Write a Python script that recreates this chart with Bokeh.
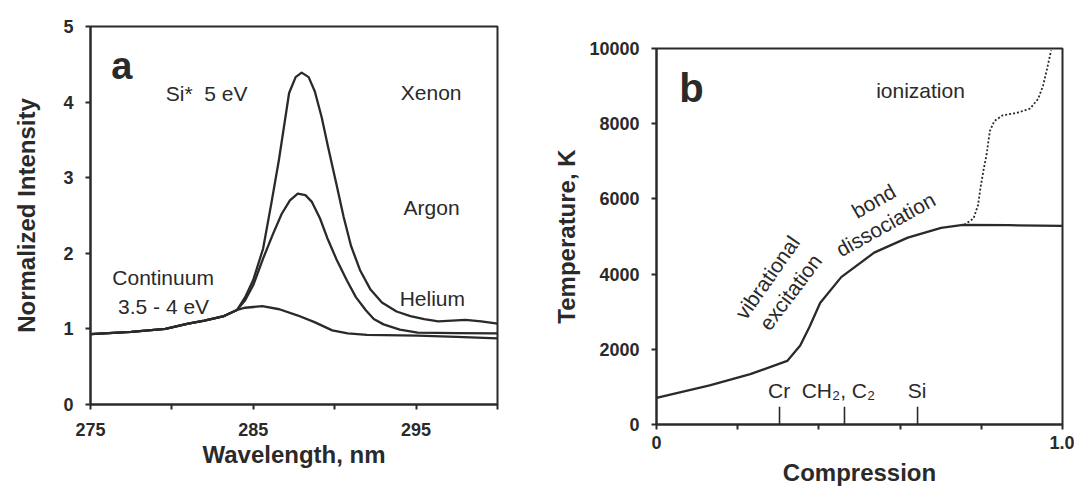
from bokeh.plotting import figure
from bokeh.layouts import row, column
from bokeh.models import FixedTicker, CustomJSTickFormatter, Range1d
from bokeh.core.properties import value
from bokeh.embed import file_html
from bokeh.resources import INLINE

INK = "#2a2a2a"
FONT = "Liberation Sans"

# ---------------- Panel a data ----------------
xenon_wl = [275.0, 277.5, 279.6, 281.0, 282.0, 283.2, 284.0, 284.5, 285.0, 285.6, 286.1, 286.57,
            287.2, 287.6, 287.97, 288.4, 288.78, 289.2, 289.6, 290.1, 290.55, 291.0, 291.55,
            292.2, 292.9, 293.8, 294.65, 295.5, 296.36, 297.2, 298.04, 299.0, 300.0]
xenon_int = [0.93, 0.96, 1.00, 1.07, 1.11, 1.17, 1.25, 1.42, 1.65, 2.06, 2.65, 3.23,
             4.12, 4.33, 4.39, 4.33, 4.14, 3.80, 3.40, 2.92, 2.48, 2.10, 1.78,
             1.52, 1.35, 1.23, 1.17, 1.13, 1.10, 1.11, 1.12, 1.10, 1.07]

argon_wl = [275.0, 277.5, 279.6, 281.0, 282.0, 283.2, 284.0, 284.5, 285.0, 285.6, 286.2, 286.74,
            287.25, 287.73, 288.2, 288.6, 289.1, 289.55, 290.15, 290.75, 291.3, 291.9,
            292.4, 293.0, 294.0, 295.1, 297.5, 300.0]
argon_int = [0.93, 0.96, 1.00, 1.07, 1.11, 1.17, 1.25, 1.38, 1.58, 1.93, 2.25, 2.52,
             2.70, 2.79, 2.77, 2.68, 2.46, 2.20, 1.90, 1.64, 1.42, 1.25,
             1.13, 1.06, 0.99, 0.95, 0.945, 0.94]

helium_wl = [275.0, 277.5, 279.6, 281.0, 282.0, 283.2, 284.0, 284.5, 285.55, 286.6, 287.7,
             288.76, 289.85, 290.8, 291.98, 295.1, 297.5, 300.0]
helium_int = [0.93, 0.96, 1.00, 1.07, 1.11, 1.17, 1.25, 1.28, 1.30, 1.26, 1.18,
              1.09, 0.98, 0.94, 0.92, 0.91, 0.895, 0.875]

a_xticks = [275, 280, 285, 290, 295, 300]
a_xlabels = ["275", "", "285", "", "295", ""]
a_yticks = [0, 1, 2, 3, 4, 5]
a_ylabels = ["0", "1", "2", "3", "4", "5"]

a_text = ["Si*\u00a0 5 eV", "Xenon", "Argon", "Helium"]
a_text_x = [279.62, 294.06, 294.23, 293.99]
a_text_y = [4.04, 4.05, 2.52, 1.32]
a_cont_text = ["Continuum", "3.5 - 4 eV"]
a_cont_x = [279.46, 279.49]
a_cont_y = [1.60, 1.22]

# ---------------- Panel b data ----------------
comp = [0.0, 0.131, 0.231, 0.322, 0.354, 0.377, 0.403, 0.455, 0.536, 0.619, 0.701, 0.755, 0.869, 1.0]
temp = [710, 1040, 1340, 1690, 2100, 2600, 3230, 3920, 4570, 4970, 5230, 5310, 5300, 5280]

ion_comp = [0.758, 0.781, 0.792, 0.798, 0.805, 0.813, 0.821, 0.832, 0.852, 0.888, 0.920, 0.940,
            0.952, 0.962, 0.972]
ion_temp = [5310, 5480, 5840, 6290, 6740, 7180, 7800, 8070, 8220, 8290, 8400, 8660,
            9010, 9460, 9950]

b_xticks = [0.0, 0.2, 0.4, 0.6, 0.8, 1.0]
b_xlabels = ["0", "", "", "", "", "1.0"]
b_yticks = [0, 2000, 4000, 6000, 8000, 10000]
b_ylabels = ["0", "2000", "4000", "6000", "8000", "10000"]

species = ["Cr", "CH\u2082, C\u2082", "Si"]
species_tick_x = [0.303, 0.463, 0.643]
species_label_x = [0.302, 0.448, 0.642]

b_upright_text = ["ionization"]
b_upright_x = [0.541]
b_upright_y = [8735]
b_slant_text = ["vibrational", "excitation", "bond", "dissociation"]
b_slant_x = [0.273, 0.330, 0.535, 0.564]
b_slant_y = [3912, 3525, 5944, 5321]
b_slant_angle = [55, 53, 30, 29]


def fmt(vals, labs):
    return CustomJSTickFormatter(
        args=dict(vals=vals, labs=labs),
        code="const i = vals.findIndex(v => Math.abs(v - tick) < 1e-9); return i >= 0 ? labs[i] : '';")


def style(p, tick_size="18px", title_size="24px"):
    p.xgrid.visible = False
    p.ygrid.visible = False
    p.outline_line_color = INK
    p.outline_line_width = 2
    p.background_fill_color = "white"
    p.border_fill_color = "white"
    for ax in (p.xaxis[0], p.yaxis[0]):
        ax.axis_line_color = INK
        ax.axis_line_width = 2
        ax.major_tick_line_color = INK
        ax.major_tick_line_width = 2
        ax.major_tick_in = 0
        ax.major_tick_out = 5
        ax.minor_tick_line_color = None
        ax.major_label_text_font = FONT
        ax.major_label_text_font_style = "bold"
        ax.major_label_text_font_size = tick_size
        ax.major_label_text_color = INK
        ax.axis_label_text_font = FONT
        ax.axis_label_text_font_style = "bold"
        ax.axis_label_text_font_size = title_size
        ax.axis_label_text_color = INK


def label(p, xs, ys, texts, size, align="left", bold=False):
    p.text(x=xs, y=ys, text=texts, text_font=value(FONT),
           text_font_style="bold" if bold else "normal",
           text_font_size=value(f"{size}px"), text_color=INK,
           text_baseline="alphabetic", text_align=align, y_offset=-round(0.3 * size))


# ---------------- Panel a ----------------
pa = figure(width=540, height=480, output_backend="svg", toolbar_location=None,
            x_range=Range1d(275, 300), y_range=Range1d(0, 5),
            min_border_left=90, min_border_right=43, min_border_top=26, min_border_bottom=76,
            x_axis_label="Wavelength, nm", y_axis_label="Normalized Intensity")
style(pa)
pa.xaxis.ticker = FixedTicker(ticks=a_xticks)
pa.xaxis.formatter = fmt(a_xticks, a_xlabels)
pa.yaxis.ticker = FixedTicker(ticks=a_yticks)
pa.yaxis.formatter = fmt(a_yticks, a_ylabels)
pa.xaxis.major_label_standoff = 13
pa.xaxis.axis_label_standoff = 2
pa.yaxis.major_label_standoff = 12
pa.yaxis.axis_label_standoff = 20

for wl, inten in ((xenon_wl, xenon_int), (argon_wl, argon_int), (helium_wl, helium_int)):
    pa.line(wl, inten, line_color=INK, line_width=2.3, line_join="round")

label(pa, a_text_x, a_text_y, a_text, 21)
label(pa, a_cont_x, a_cont_y, a_cont_text, 21, align="center")
label(pa, [276.27], [4.33], ["a"], 38, bold=True)

# ---------------- Panel b ----------------
pb = figure(width=534, height=490, output_backend="svg", toolbar_location=None,
            x_range=Range1d(0, 1), y_range=Range1d(0, 10000),
            min_border_left=116, min_border_right=12, min_border_top=48, min_border_bottom=66,
            x_axis_label="Compression", y_axis_label="Temperature, K")
style(pb)
pb.xaxis.ticker = FixedTicker(ticks=b_xticks)
pb.xaxis.formatter = fmt(b_xticks, b_xlabels)
pb.yaxis.ticker = FixedTicker(ticks=b_yticks)
pb.yaxis.formatter = fmt(b_yticks, b_ylabels)
pb.xaxis.major_label_standoff = 6
pb.xaxis.axis_label_standoff = 7
pb.yaxis.major_label_standoff = 12
pb.yaxis.axis_label_standoff = 6

pb.line(comp, temp, line_color=INK, line_width=2.3, line_join="round")
pb.line(ion_comp, ion_temp, line_color=INK, line_width=1.8, line_dash="2 2")

tick_len = 470
pb.segment(x0=species_tick_x, y0=[0] * len(species_tick_x), x1=species_tick_x,
           y1=[tick_len] * len(species_tick_x), line_color=INK, line_width=1.6)
label(pb, species_label_x, [740] * len(species), species, 21, align="center")

label(pb, b_upright_x, b_upright_y, b_upright_text, 21)
pb.text(x=b_slant_x, y=b_slant_y, text=b_slant_text, angle=b_slant_angle, angle_units="deg",
        text_font=value(FONT), text_font_size=value("21px"), text_color=INK,
        text_baseline="middle", text_align="center")
label(pb, [0.056], [8642], ["b"], 40, bold=True)

layout = row(column(pa), column(pb))
open("out.html", "w").write(file_html(layout, INLINE))
